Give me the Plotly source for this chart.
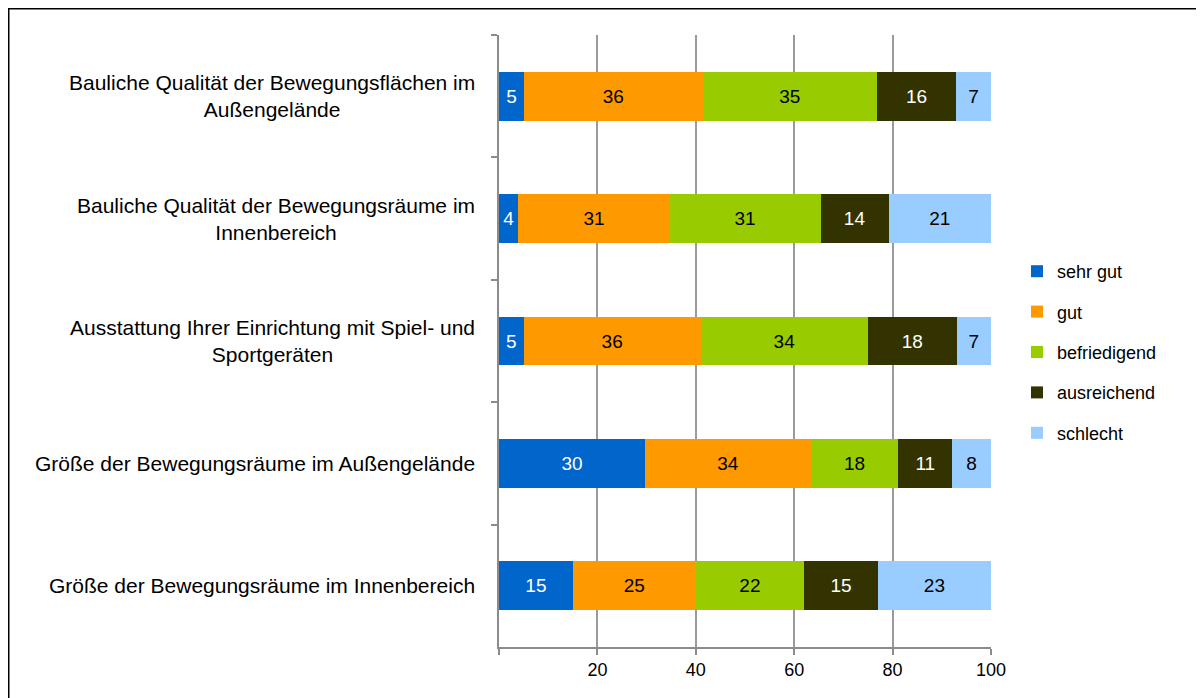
import plotly.graph_objects as go

categories = [
    "Bauliche Qualität der Bewegungsflächen im<br>Außengelände",
    "Bauliche Qualität der Bewegungsräume im<br>Innenbereich",
    "Ausstattung Ihrer Einrichtung mit Spiel- und<br>Sportgeräten",
    "Größe der Bewegungsräume im Außengelände",
    "Größe der Bewegungsräume im Innenbereich",
]
series_names = ["sehr gut", "gut", "befriedigend", "ausreichend", "schlecht"]
sehr_gut = [5, 4, 5, 30, 15]
gut = [36, 31, 36, 34, 25]
befriedigend = [35, 31, 34, 18, 22]
ausreichend = [16, 14, 18, 11, 15]
schlecht = [7, 21, 7, 8, 23]
x_tick_vals = [0, 20, 40, 60, 80, 100]
x_tick_text = ["", "20", "40", "60", "80", "100"]

series_values = [sehr_gut, gut, befriedigend, ausreichend, schlecht]
colors = ["#0066CC", "#FF9900", "#99CC00", "#333300", "#99CCFF"]
text_colors = ["white", "black", "black", "white", "black"]

FONT = "Liberation Sans, Arial, sans-serif"

# page body has an 8px default margin; screen px = figure px + 8
OFF = 8
W, H = 1204, 698
L, T = 499 - OFF, 35 - OFF
pw, ph = 492, 612
R, B = W - L - pw, H - T - ph


def sx(px):
    return (px - OFF - L) / pw


def sy(py):
    return (T + ph - (py - OFF)) / ph


fig = go.Figure()
for name, vals, col, tcol in zip(series_names, series_values, colors, text_colors):
    fig.add_trace(go.Bar(
        y=categories, x=vals, name=name, orientation="h",
        marker=dict(color=col, line=dict(width=0)),
        text=[str(v) for v in vals], textposition="inside",
        insidetextanchor="middle",
        textfont=dict(family=FONT, size=19, color=tcol),
        legendgroup=name, hoverinfo="name+x",
    ))

annotations = []
for c in categories:
    annotations.append(dict(
        x=sx(477), xref="paper", y=c, yref="y",
        text=c, showarrow=False, xanchor="right", yanchor="middle",
        align="center", font=dict(family=FONT, size=21, color="black"),
    ))

fig.update_layout(
    width=W, height=H,
    margin=dict(l=L, r=R, t=T, b=B),
    barmode="stack", barnorm="percent", bargap=0.6,
    plot_bgcolor="white", paper_bgcolor="white",
    font=dict(family=FONT, size=18, color="black"),
    uniformtext=dict(minsize=19, mode="show"),
    legend=dict(
        x=sx(1017), xanchor="left", y=sy(352), yanchor="middle",
        traceorder="grouped", tracegroupgap=14,
        font=dict(family=FONT, size=18, color="black"),
        bgcolor="rgba(0,0,0,0)",
    ),
    annotations=annotations,
    shapes=[dict(
        type="rect", xref="paper", yref="paper",
        x0=sx(8.75), x1=sx(1230),
        y0=sy(720), y1=sy(8.75),
        line=dict(color="black", width=1.5), fillcolor="rgba(0,0,0,0)", layer="below",
    )],
)

fig.update_xaxes(
    range=[0, 100], tickvals=x_tick_vals, ticktext=x_tick_text,
    showgrid=True, gridcolor="#9a9a9a", gridwidth=1.5,
    showline=True, linecolor="#8c8c8c", linewidth=1.5,
    ticks="outside", ticklen=6, tickcolor="#8c8c8c", tickwidth=1.5,
    zeroline=False, tickfont=dict(family=FONT, size=18, color="black"),
    fixedrange=True,
)
fig.update_yaxes(
    autorange="reversed", showticklabels=False,
    showline=True, linecolor="#8c8c8c", linewidth=1.5,
    ticks="outside", tickson="boundaries", ticklen=6, tickcolor="#8c8c8c", tickwidth=1.5,
    showgrid=False, fixedrange=True,
)

fig.write_html("out.html")
